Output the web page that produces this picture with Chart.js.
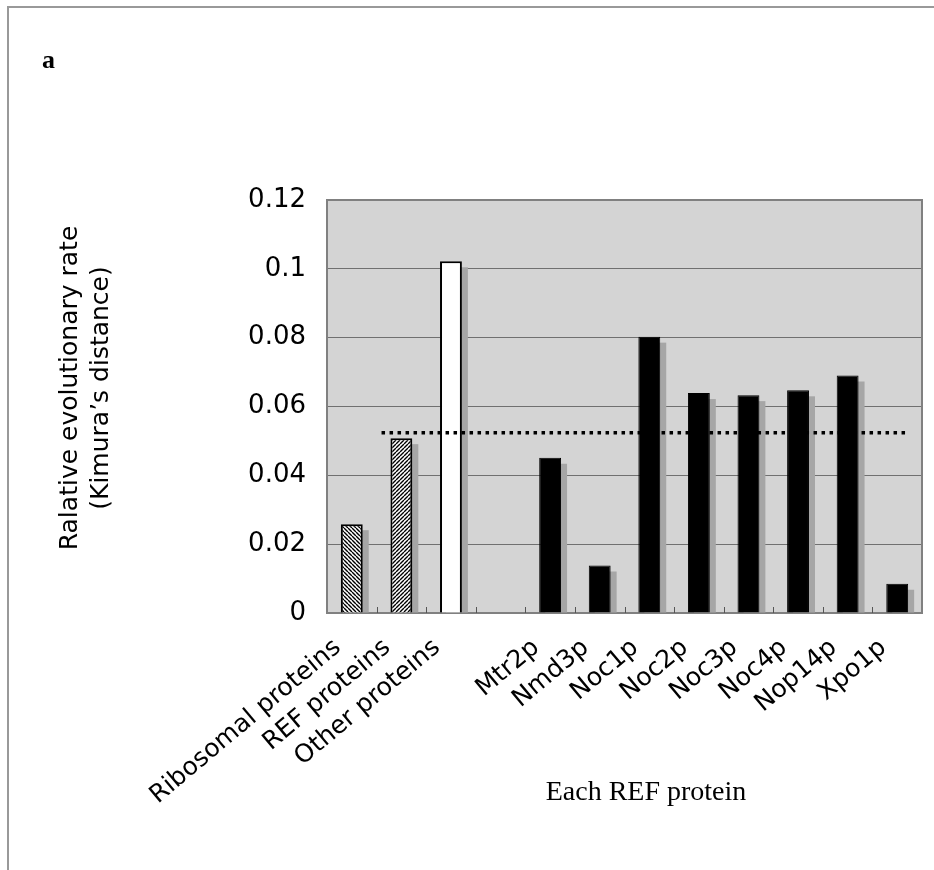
<!DOCTYPE html>
<html>
<head>
<meta charset="utf-8">
<script src="https://cdn.jsdelivr.net/npm/chart.js@4.4.1/dist/chart.umd.min.js"></script>
<style>
  html, body { margin: 0; padding: 0; background: #fff; }
  #marco { width: 934px; height: 870px; position: relative; }
</style>
</head>
<body>
<div id="marco"><canvas id="graficoTasas" width="934" height="870"></canvas></div>
<script>
// datos
const categorias = ['Ribosomal proteins', 'REF proteins', 'Other proteins', '',
  'Mtr2p', 'Nmd3p', 'Noc1p', 'Noc2p', 'Noc3p', 'Noc4p', 'Nop14p', 'Xpo1p'];
const tasas = [0.0258, 0.0508, 0.1022, null, 0.0451, 0.0138, 0.0803, 0.0639, 0.0633, 0.0647, 0.069, 0.0085];
const etiquetasY = ['0', '0.02', '0.04', '0.06', '0.08', '0.1', '0.12'];
const mediaREF = 0.0524;
const tramoMedia = [0.6, 11.2];   // en unidades de categoria
const tituloY = ['Ralative evolutionary rate', '(Kimura\u2019s distance)'];
const tituloX = 'Each REF protein';
const panel = 'a';

const fuente = '"DejaVu Sans"';

const canvas = document.getElementById('graficoTasas');
const ctx = canvas.getContext('2d');

function rayado(invertido) {
  const s = 4;
  const c = document.createElement('canvas');
  c.width = s; c.height = s;
  const g = c.getContext('2d');
  g.fillStyle = '#fff';
  g.fillRect(0, 0, s, s);
  g.strokeStyle = '#000';
  g.lineWidth = 1.4;
  g.beginPath();
  for (let k = -1; k <= 1; k++) {
    if (invertido) { g.moveTo(k * s, 0); g.lineTo(k * s + s, s); }
    else { g.moveTo(k * s, s); g.lineTo(k * s + s, 0); }
  }
  g.stroke();
  return ctx.createPattern(c, 'repeat');
}

const rellenos = categorias.map((c, i) => {
  if (i === 0) return rayado(true);
  if (i === 1) return rayado(false);
  if (i === 2) return '#ffffff';
  return '#000000';
});

const decorado = {
  id: 'decorado',
  beforeDraw(chart) {
    const { ctx, chartArea: a } = chart;
    ctx.save();
    ctx.fillStyle = '#fff';
    ctx.fillRect(0, 0, chart.width, chart.height);
    ctx.fillStyle = '#d4d4d4';
    ctx.fillRect(a.left, a.top, a.right - a.left, a.bottom - a.top);
    ctx.restore();
  },
  beforeDatasetsDraw(chart) {
    // sombras grises de las barras
    const { ctx, chartArea: a } = chart;
    const meta = chart.getDatasetMeta(0);
    ctx.save();
    ctx.fillStyle = '#a6a6a6';
    meta.data.forEach((bar, i) => {
      if (tasas[i] === null) return;
      const { x, y, base, width } = bar.getProps(['x', 'y', 'base', 'width'], true);
      ctx.fillRect(x - width / 2 + 6, y + 6, width, Math.min(base, a.bottom) - y - 6);
    });
    ctx.restore();
  },
  afterDatasetsDraw(chart) {
    const { ctx, chartArea: a, scales: { x, y } } = chart;
    ctx.save();
    // media de las REF
    ctx.strokeStyle = '#000';
    ctx.lineWidth = 3.5;
    ctx.setLineDash([3.5, 4.5]);
    ctx.beginPath();
    const ym = y.getPixelForValue(mediaREF);
    ctx.moveTo(x.getPixelForValue(tramoMedia[0]), ym);
    ctx.lineTo(x.getPixelForValue(tramoMedia[1]), ym);
    ctx.stroke();
    ctx.setLineDash([]);
    // marcas entre categorias
    ctx.strokeStyle = '#555';
    ctx.lineWidth = 1;
    for (let i = 0; i < categorias.length - 1; i++) {
      const px = Math.round(x.getPixelForValue(i + 0.5)) + 0.5;
      ctx.beginPath();
      ctx.moveTo(px, a.bottom);
      ctx.lineTo(px, a.bottom - 6);
      ctx.stroke();
    }
    // borde superior y derecho
    ctx.strokeStyle = '#808080';
    ctx.lineWidth = 2;
    ctx.beginPath();
    ctx.moveTo(a.left, a.top);
    ctx.lineTo(a.right, a.top);
    ctx.lineTo(a.right, a.bottom);
    ctx.stroke();
    ctx.restore();
  },
  afterDraw(chart) {
    const { ctx } = chart;
    ctx.save();
    ctx.fillStyle = '#000';
    ctx.font = 'bold 26px "Liberation Serif"';
    ctx.textBaseline = 'alphabetic';
    ctx.fillText(panel, 42, 68);
    ctx.font = '28px "Liberation Serif"';
    ctx.textAlign = 'center';
    ctx.fillText(tituloX, 646, 800);
    ctx.font = '25px ' + fuente;
    ctx.textBaseline = 'middle';
    ctx.translate(70, 388);
    ctx.rotate(-Math.PI / 2);
    tituloY.forEach((t, i) => ctx.fillText(t, 0, i * 31));
    ctx.restore();
    // marco de la figura
    ctx.save();
    ctx.strokeStyle = '#999';
    ctx.lineWidth = 2;
    ctx.beginPath();
    ctx.moveTo(8, chart.height);
    ctx.lineTo(8, 7);
    ctx.lineTo(chart.width, 7);
    ctx.stroke();
    ctx.restore();
  }
};

new Chart(canvas, {
  type: 'bar',
  data: {
    labels: categorias,
    datasets: [{
      data: tasas,
      backgroundColor: rellenos,
      borderColor: '#000',
      borderWidth: categorias.map((c, i) => (i < 3 ? 2 : 1)),
      barPercentage: 0.9,
      categoryPercentage: 0.49
    }]
  },
  options: {
    responsive: false,
    animation: false,
    devicePixelRatio: 1,
    layout: { padding: { left: 0, top: 200, right: 12, bottom: 0 } },
    plugins: { legend: { display: false }, tooltip: { enabled: false } },
    scales: {
      x: {
        afterFit: (s) => { s.height = 257; s.paddingLeft = 0; s.paddingRight = 0; },
        grid: { display: false, drawTicks: false },
        border: { display: true, color: '#808080', width: 2 },
        ticks: {
          autoSkip: false,
          maxRotation: 40,
          minRotation: 40,
          padding: 20,
          labelOffset: -14,
          color: '#000',
          font: { family: fuente, size: 25 }
        }
      },
      y: {
        min: 0,
        max: 0.12,
        afterFit: (s) => { s.width = 327; },
        grid: { color: '#707070', lineWidth: 1, drawTicks: false },
        border: { display: true, color: '#808080', width: 2 },
        ticks: {
          stepSize: 0.02,
          padding: 21,
          color: '#000',
          font: { family: fuente, size: 26 },
          callback: (v, i) => etiquetasY[i]
        }
      }
    }
  },
  plugins: [decorado]
});
</script>
</body>
</html>
